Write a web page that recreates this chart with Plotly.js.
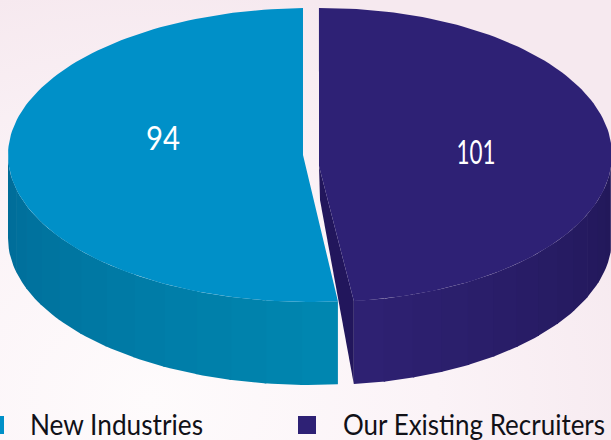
<!DOCTYPE html>
<html>
<head>
<meta charset="utf-8">
<script src="https://cdn.plot.ly/plotly-3.0.1.min.js"></script>
<style>
html,body{margin:0;padding:0;width:611px;height:440px;overflow:hidden;
background:radial-gradient(ellipse 520px 420px at 150px 400px,#fefbfc 0%,#fbf3f7 55%,#f6e9ef 100%);}
#chart{width:611px;height:440px;}
</style>
</head>
<body>
<div id="chart"></div>
<script>
var categories = ["New Industries", "Our Existing Recruiters"];
var values = [94, 101];

var topColors = ["#0090c8", "#2e2175"];
var cutColor = "#22165c";
var depth = 83;
var leftPie = {cx: 310, cy: 155, rx: 302, ry: 147, t0: -1.33, t1: -185.3};
var rightPie = {cx: 322, cy: 155, rx: 290, ry: 147, t0: -0.6, t1: 173.7};
var leftApex = [303, 155];
var rightApex = [319, 166];
var labelPos = {x: [163, 476], y: [142, 156]};
var legendPos = {mx: [-5, 307], my: [425, 425], tx: [30, 343], ty: [428, 428]};
var labelFont = "Lato, sans-serif";
var textWidths = {"94": 34, "101": 39, "New Industries": 173, "Our Existing Recruiters": 262};

function pt(p, deg, dy) {
  var a = deg * Math.PI / 180;
  return [p.cx + p.rx * Math.sin(a), p.cy + (dy || 0) - p.ry * Math.cos(a)];
}
function arc(p, a, b, dy) {
  var n = Math.max(2, Math.ceil(Math.abs(b - a) / 1.5)), out = [];
  for (var i = 0; i <= n; i++) out.push(pt(p, a + (b - a) * i / n, dy));
  return out;
}
function poly(points, color) {
  var xs = points.map(function (q) { return q[0]; });
  var ys = points.map(function (q) { return q[1]; });
  xs.push(xs[0]); ys.push(ys[0]);
  return {type: "scatter", mode: "lines", x: xs, y: ys, fill: "toself", fillcolor: color,
          line: {width: 0, color: color}, hoverinfo: "skip", showlegend: false};
}
function mix(c1, c2, f) {
  var r = c1.map(function (v, i) { return Math.round(v + (c2[i] - v) * f); });
  return "rgb(" + r.join(",") + ")";
}
function wall(p, a, b, c1, c2, bands) {
  var out = [];
  for (var i = 0; i < bands; i++) {
    var s = a + (b - a) * i / bands, e = a + (b - a) * (i + 1.05) / bands;
    if (i === bands - 1) e = b;
    out.push(poly(arc(p, s, e, 0).concat(arc(p, e, s, depth)), mix(c1, c2, i / (bands - 1))));
  }
  return out;
}

var traces = [];
// right wedge wall, cut face, top
traces = traces.concat(wall(rightPie, rightPie.t1, 90, [46, 33, 114], [33, 23, 88], 14));
var rEnd = pt(rightPie, rightPie.t1);
var rEndLow = pt(rightPie, rightPie.t1, depth);
traces.push(poly([rightApex, rEnd, rEndLow, [320, 200]], cutColor));
traces.push(poly(arc(rightPie, rightPie.t0, rightPie.t1).concat([rightApex]), topColors[1]));
// left wedge wall, top
traces = traces.concat(wall(leftPie, leftPie.t1, -90, [0, 134, 176], [0, 108, 152], 14));
traces.push(poly(arc(leftPie, leftPie.t0, leftPie.t1).concat([leftApex]), topColors[0]));
// value labels
traces.push({type: "scatter", mode: "text", x: labelPos.x, y: labelPos.y,
  text: values.map(String), textposition: "middle center",
  textfont: {family: labelFont, size: 33, color: "#ffffff"},
  hoverinfo: "skip", showlegend: false});
// legend
traces.push({type: "scatter", mode: "markers", x: legendPos.mx, y: legendPos.my,
  marker: {symbol: "square", size: 18, color: topColors, line: {width: 0}},
  hoverinfo: "skip", showlegend: false, cliponaxis: true});
traces.push({type: "scatter", mode: "text", x: legendPos.tx, y: legendPos.ty,
  text: categories, textposition: "middle right",
  textfont: {family: labelFont, size: 29, color: "#111118"},
  hoverinfo: "skip", showlegend: false});

var layout = {
  width: 611, height: 440,
  margin: {l: 0, r: 0, t: 0, b: 0, pad: 0},
  paper_bgcolor: "rgba(0,0,0,0)", plot_bgcolor: "rgba(0,0,0,0)",
  showlegend: false,
  xaxis: {range: [0, 611], visible: false, fixedrange: true},
  yaxis: {range: [440, 0], visible: false, fixedrange: true}
};
Plotly.newPlot("chart", traces, layout, {staticPlot: true, displayModeBar: false}).then(function () {
  // the reference's typeface is condensed: fit each real text to its read width
  document.querySelectorAll("#chart .textpoint text").forEach(function (t) {
    var w = textWidths[t.textContent];
    if (w) {
      t.setAttribute("textLength", w);
      t.setAttribute("lengthAdjust", "spacingAndGlyphs");
    }
  });
});
</script>
</body>
</html>
